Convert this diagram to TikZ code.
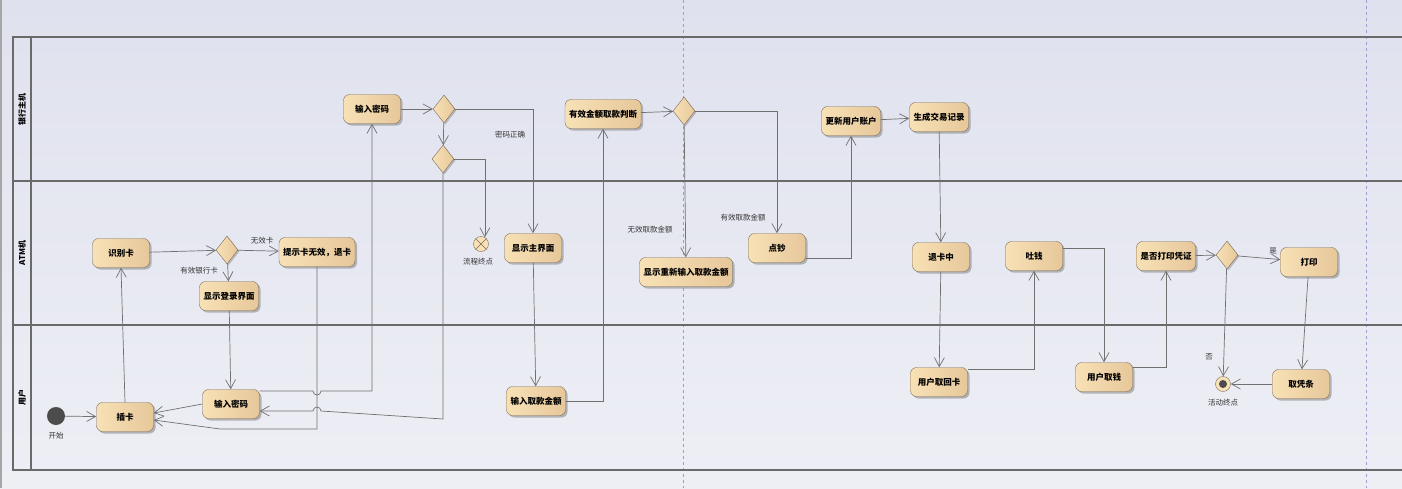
\documentclass[tikz,border=0pt]{standalone}
\usepackage{fontspec}
\usepackage{tikz}
\usetikzlibrary{shapes.geometric, shadows, arrows.meta}
\newfontfamily\cjk{Noto Sans CJK SC}
\definecolor{actleft}{HTML}{F8E1B6}
\definecolor{actright}{HTML}{E6C79A}
\definecolor{actborder}{HTML}{7A6B58}
\definecolor{flowgray}{HTML}{707070}
\definecolor{lanegray}{HTML}{6A6A6A}
\definecolor{bgtop}{HTML}{DFE1EE}
\definecolor{bgbottom}{HTML}{EEEFF5}
\definecolor{pageline}{HTML}{9C9CD2}

\begin{document}
\begin{tikzpicture}[x=1pt, y=-1pt,
    act/.style={draw=actborder, rounded corners=6pt, left color=actleft, right color=actright,
                minimum width=57pt, minimum height=29pt, inner sep=4pt,
                font=\cjk\bfseries\fontsize{8.5}{10}\selectfont,
                drop shadow={shadow xshift=2pt, shadow yshift=-2pt, fill=black!45, opacity=0.6}},
    decision/.style={diamond, draw=actborder, left color=actleft, right color=actright,
                minimum width=22pt, minimum height=28pt, inner sep=0pt,
                drop shadow={shadow xshift=1.5pt, shadow yshift=-1.5pt, fill=black!45, opacity=0.5}},
    flowend/.style={circle, draw=actborder, fill=actleft, minimum size=15pt, inner sep=0pt},
    startnode/.style={circle, fill=black!70, minimum size=18pt, inner sep=0pt},
    lbl/.style={font=\cjk\fontsize{7.5}{9}\selectfont, text=black!80},
    lane/.style={font=\cjk\bfseries\fontsize{8}{9}\selectfont, rotate=90},
    arrow/.style={-{Straight Barb[length=9pt,width=10pt]}, flowgray, line width=0.7pt}
]
\useasboundingbox (0,0) rectangle (1402,488);
\fill[top color=bgtop, bottom color=bgbottom] (0,0) rectangle (1402,488);
\fill[black!35] (0,0) rectangle (2,488);

% page breaks
\draw[pageline, dashed] (683,0) -- (683,488);
\draw[pageline, dashed] (1366,0) -- (1366,488);

% swimlanes
\draw[lanegray, line width=1.2pt] (1402,37) -- (13,37) -- (13,470) -- (1402,470);
\draw[lanegray, line width=1.2pt] (31,37) -- (31,470);
\draw[lanegray, line width=1.2pt] (13,181) -- (1402,181);
\draw[lanegray, line width=1.2pt] (13,325) -- (1402,325);
\node[lane] (yinhang) at (22,109) {银行主机};
\node[lane] (atm) at (22,253) {ATM机};
\node[lane] (yonghu) at (22,397) {用户};

% activities
\node[startnode] (start) at (56,416) {};
\node[act] (chaka) at (125,417) {插卡};
\node[act] (shibieka) at (121,253) {识别卡};
\node[decision] (kapanduan) at (227,250) {};
\node[act] (denglu) at (229,296) {显示登录界面};
\node[act] (wuxiaoka) at (317,252) {提示卡无效，退卡};
\node[act] (mima) at (231,404) {输入密码};
\node[act] (mimaj) at (372,109) {输入密码};
\node[decision] (mimapd) at (444,109) {};
\node[decision] (mimacw) at (443,159) {};
\node[flowend] (liucheng) at (481,244) {};
\draw[actborder] (liucheng.north west) -- (liucheng.south east) (liucheng.north east) -- (liucheng.south west);
\node[act] (zhujiemian) at (533,248) {显示主界面};
\node[act] (qukuan) at (536,401) {输入取款金额};
\node[act] (jinepd) at (603,114) {有效金额取款判断};
\node[decision] (jinepanduan) at (684,111) {};
\node[act] (chongxin) at (686,272) {显示重新输入取款金额};
\node[act] (dianchao) at (777,248) {点钞};
\node[act] (gengxin) at (851,121) {更新用户账户};
\node[act] (jilu) at (939,117) {生成交易记录};
\node[act] (tuika) at (941,257) {退卡中};
\node[act] (quhuika) at (939,382) {用户取回卡};
\node[act] (tuqian) at (1034,256) {吐钱};
\node[act] (quqian) at (1104,377) {用户取钱};
\node[act] (pingzheng) at (1166,256) {是否打印凭证};
\node[decision] (dayinpd) at (1227,255) {};
\node[act] (dayin) at (1309,262) {打印};
\node[act] (qupingtiao) at (1301,384) {取凭条};
\node[flowend] (jieshu) at (1223,384) {};
\fill[black!70] (jieshu) circle (4);

% labels
\node[lbl] (kaishi) at (56,436) {开始};
\node[lbl] (wuxiaokalbl) at (262,241) {无效卡};
\node[lbl] (youxiaokalbl) at (199,271) {有效银行卡};
\node[lbl] (mimazqlbl) at (510,135) {密码正确};
\node[lbl] (liuchenglbl) at (478,262) {流程终点};
\node[lbl] (wuxiaojelbl) at (650,230) {无效取款金额};
\node[lbl] (youxiaojelbl) at (743,218) {有效取款金额};
\node[lbl] (shilbl) at (1273,251) {是};
\node[lbl] (foulbl) at (1209,357) {否};
\node[lbl] (jieshulbl) at (1223,403) {活动终点};

% flows
\draw[arrow] (start) -- (chaka);
\draw[arrow] (chaka.north) -- (shibieka.south);
\draw[arrow] (shibieka) -- (kapanduan);
\draw[arrow] (kapanduan) -- (wuxiaoka);
\draw[arrow] (kapanduan) -- (denglu);
\draw[arrow] (denglu) -- (mima);
\draw[arrow] (mima.west) -- ([yshift=4pt]chaka.east);
\draw[arrow] (wuxiaoka.south) |- (220,429) -- ([yshift=-3pt]chaka.east);
\draw[arrow] ([yshift=13pt]mima.east) -- (313,391) arc[start angle=180, end angle=0, radius=4] -| (mimaj.south);
\draw[arrow] (mimacw.south) -- (443,419) -- (321,411) arc[start angle=0, end angle=-180, radius=4] -- ([yshift=-7pt]mima.east);
\draw[arrow] (mimaj) -- (mimapd);
\draw[arrow] (mimapd.east) -| (zhujiemian.north);
\draw[arrow] (mimapd) -- (mimacw);
\draw[arrow] (mimacw.east) -| (liucheng.60);
\draw[arrow] (zhujiemian) -- (qukuan);
\draw[arrow] (qukuan.east) -| (jinepd.south);
\draw[arrow] (jinepd) -- (jinepanduan);
\draw[arrow] (jinepanduan) -- (chongxin);
\draw[arrow] (jinepanduan.east) -| (dianchao.north);
\draw[arrow] ([yshift=-10pt]dianchao.east) -| (gengxin.south);
\draw[arrow] (gengxin) -- (jilu);
\draw[arrow] (jilu) -- (tuika);
\draw[arrow] (tuika) -- (quhuika);
\draw[arrow] ([yshift=13pt]quhuika.east) -| (tuqian.south);
\draw[arrow] ([yshift=8pt]tuqian.east) -| (quqian.north);
\draw[arrow] ([yshift=10pt]quqian.east) -| (pingzheng.south);
\draw[arrow] (pingzheng) -- (dayinpd);
\draw[arrow] (dayinpd) -- (dayin);
\draw[arrow] (dayinpd) -- (jieshu);
\draw[arrow] (dayin) -- (qupingtiao);
\draw[arrow] (qupingtiao) -- (jieshu);
\end{tikzpicture}
\end{document}
